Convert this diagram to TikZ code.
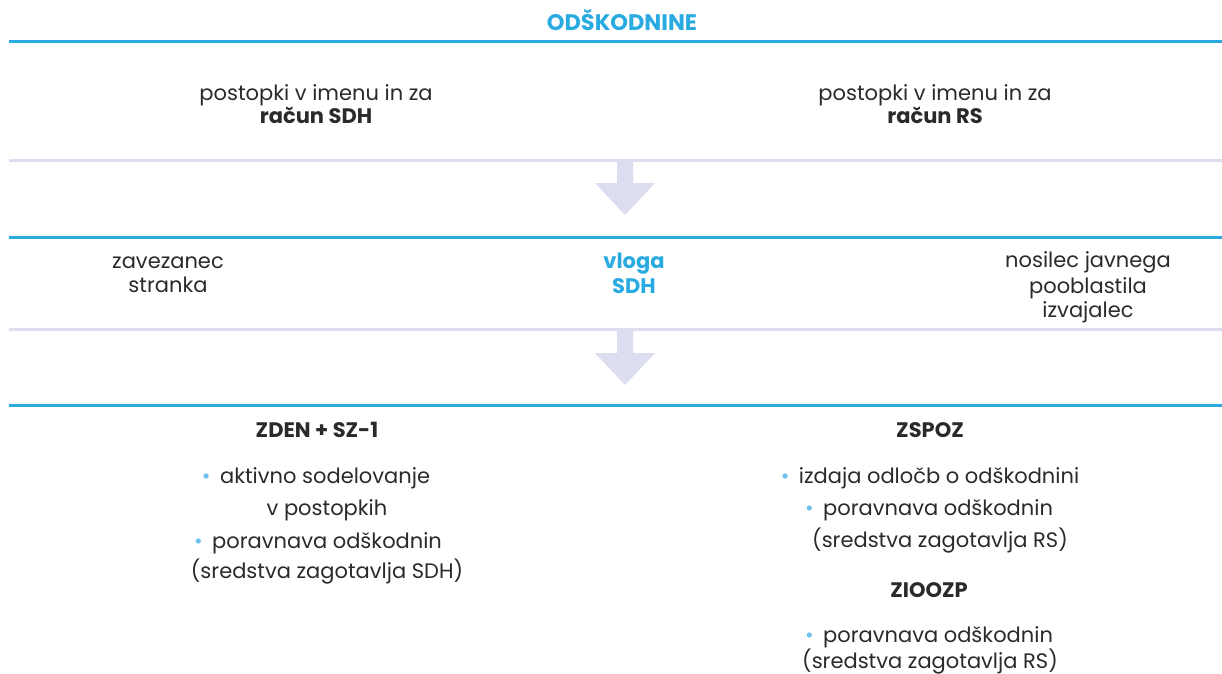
\documentclass[tikz,border=0pt]{standalone}
\usepackage{fontspec}
\setmainfont{Poppins}
\definecolor{sdhblue}{HTML}{29AAE1}
\definecolor{lav}{HTML}{DCDDEE}
\definecolor{txt}{HTML}{2A2A2A}
\definecolor{bul}{HTML}{6CC0EC}
\tikzset{
  t/.style={anchor=base, inner sep=0pt, text=txt, font=\fontsize{21}{24}\selectfont},
  tb/.style={t, font=\fontsize{21}{24}\selectfont\bfseries},
  tblue/.style={tb, text=sdhblue},
  ttitle/.style={tblue, font=\fontsize{22.5}{26}\selectfont\bfseries},
  blueline/.style={draw=sdhblue, line width=3pt},
  lavline/.style={draw=lav, line width=3pt},
  downarrow/.style={fill=lav, draw=none},
}
\newcommand{\bul}{{\color{bul}\textbullet}\hspace{0.45em}}
\begin{document}
\begin{tikzpicture}[x=1pt,y=-1pt]
\useasboundingbox (0,0) rectangle (1222,673);
% rules
\coordinate (L1a) at (9,41);  \coordinate (L1b) at (1222,41);
\coordinate (L2a) at (9,160); \coordinate (L2b) at (1222,160);
\coordinate (L3a) at (9,237); \coordinate (L3b) at (1222,237);
\coordinate (L4a) at (9,329); \coordinate (L4b) at (1222,329);
\coordinate (L5a) at (9,405); \coordinate (L5b) at (1222,405);
\draw[blueline] (L1a) -- (L1b);
\draw[lavline] (L2a) -- (L2b);
\draw[blueline] (L3a) -- (L3b);
\draw[lavline] (L4a) -- (L4b);
\draw[blueline] (L5a) -- (L5b);
% arrows
\fill[downarrow] (617,161) -- (633,161) -- (633,183) -- (655,183) -- (625,215) -- (595,183) -- (617,183) -- cycle;
\fill[downarrow] (617,330) -- (633,330) -- (633,353) -- (655,353) -- (625,385) -- (595,353) -- (617,353) -- cycle;
% title
\node[ttitle] (title) at (622,30) {ODŠKODNINE};
% row 1
\node[t] (p1a) at (316,100) {postopki v imenu in za};
\node[tb] (p1b) at (316,123) {račun SDH};
\node[t] (p2a) at (935,100) {postopki v imenu in za};
\node[tb] (p2b) at (935,123) {račun RS};
% row 2
\node[t] (z1) at (168,268) {zavezanec};
\node[t] (z2) at (168,292) {stranka};
\node[tblue] (v1) at (634,268) {vloga};
\node[tblue] (v2) at (634,293) {SDH};
\node[t] (n1) at (1088,267) {nosilec javnega};
\node[t] (n2) at (1088,293) {pooblastila};
\node[t] (n3) at (1088,317) {izvajalec};
% row 3 left
\node[tb] (zden) at (317,437) {ZDEN + SZ-1};
\node[t] (a1) at (316,483) {\bul aktivno sodelovanje};
\node[t] (a2) at (327,515) {v postopkih};
\node[t] (a3) at (318,548) {\bul poravnava odškodnin};
\node[t] (a4) at (327,578) {(sredstva zagotavlja SDH)};
% row 3 right
\node[tb] (zspoz) at (930,437) {ZSPOZ};
\node[t] (b1) at (930,483) {\bul izdaja odločb o odškodnini};
\node[t] (b2) at (929,515) {\bul poravnava odškodnin};
\node[t] (b3) at (940,547) {(sredstva zagotavlja RS)};
\node[tb] (ziozp) at (929,597) {ZIOOZP};
\node[t] (c1) at (929,642) {\bul poravnava odškodnin};
\node[t] (c2) at (930,668) {(sredstva zagotavlja RS)};
\end{tikzpicture}
\end{document}
